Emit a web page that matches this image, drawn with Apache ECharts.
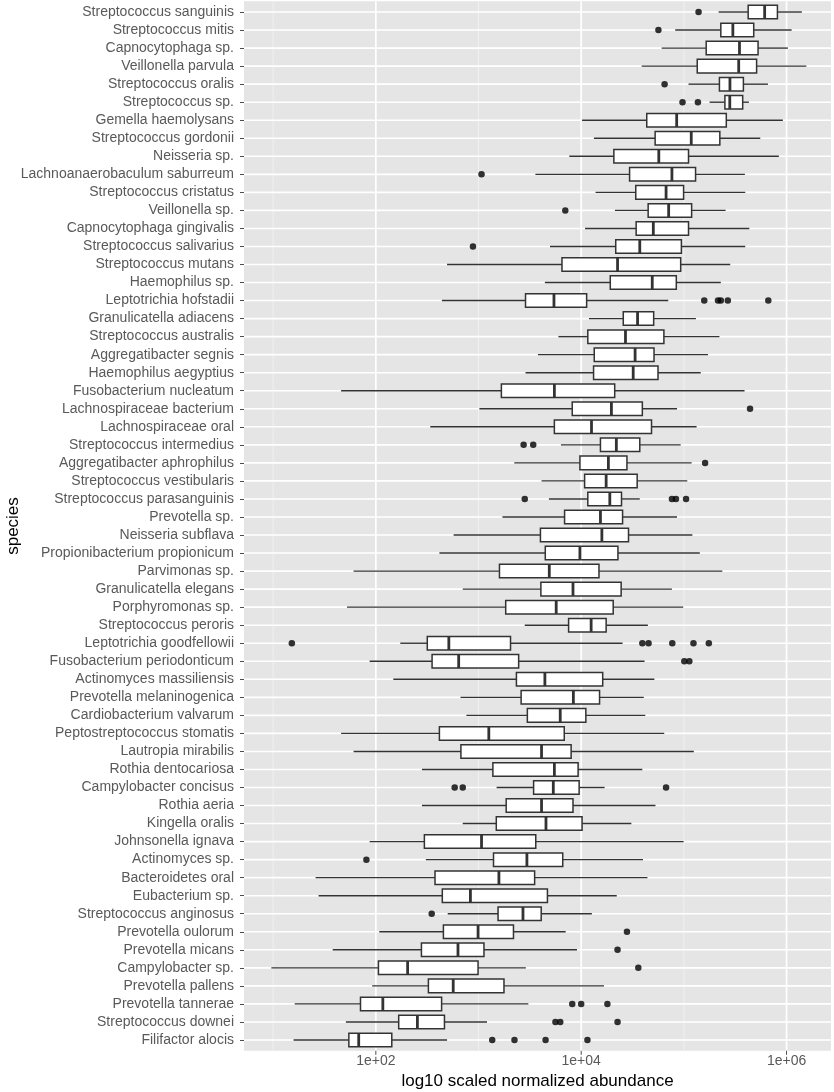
<!DOCTYPE html>
<html>
<head>
<meta charset="utf-8">
<script src="https://cdn.jsdelivr.net/npm/echarts@6/dist/echarts.min.js"></script>
<style>
html,body{margin:0;padding:0;background:#fff;}
#chart{width:834px;height:1092px;}
</style>
</head>
<body>
<div id="chart"></div>
<script>
const categories = [
 'Streptococcus sanguinis','Streptococcus mitis','Capnocytophaga sp.','Veillonella parvula','Streptococcus oralis',
 'Streptococcus sp.','Gemella haemolysans','Streptococcus gordonii','Neisseria sp.','Lachnoanaerobaculum saburreum',
 'Streptococcus cristatus','Veillonella sp.','Capnocytophaga gingivalis','Streptococcus salivarius','Streptococcus mutans',
 'Haemophilus sp.','Leptotrichia hofstadii','Granulicatella adiacens','Streptococcus australis','Aggregatibacter segnis',
 'Haemophilus aegyptius','Fusobacterium nucleatum','Lachnospiraceae bacterium','Lachnospiraceae oral','Streptococcus intermedius',
 'Aggregatibacter aphrophilus','Streptococcus vestibularis','Streptococcus parasanguinis','Prevotella sp.','Neisseria subflava',
 'Propionibacterium propionicum','Parvimonas sp.','Granulicatella elegans','Porphyromonas sp.','Streptococcus peroris',
 'Leptotrichia goodfellowii','Fusobacterium periodonticum','Actinomyces massiliensis','Prevotella melaninogenica','Cardiobacterium valvarum',
 'Peptostreptococcus stomatis','Lautropia mirabilis','Rothia dentocariosa','Campylobacter concisus','Rothia aeria',
 'Kingella oralis','Johnsonella ignava','Actinomyces sp.','Bacteroidetes oral','Eubacterium sp.',
 'Streptococcus anginosus','Prevotella oulorum','Prevotella micans','Campylobacter sp.','Prevotella pallens',
 'Prevotella tannerae','Streptococcus downei','Filifactor alocis'
];

const whiskerLow = [2.18e5,8.24e4,6.08e4,3.88e4,1.11e5,1.78e5,1.02e4,1.33e4,7.66e3,3.58e3,
 1.38e4,2.13e4,1.09e4,4.97e3,494,4.43e3,440,1.19e4,6.0e3,3.79e3,
 2.87e3,45.9,1.02e3,339,6.35e3,2.23e3,4.11e3,4.85e3,1.71e3,572,
 416,60.7,702,52.4,2.82e3,173,87,148,668,762,
 45.9,60.7,281,1.50e3,281,702,87,307,25.9,27.7,
 501,108,38,9.6,92.1,16.2,51.1,15.8];

const quartile1 = [4.23e5,2.29e5,1.65e5,1.35e5,2.22e5,2.51e5,4.35e4,5.25e4,2.08e4,2.96e4,
 3.40e4,4.49e4,3.43e4,2.17e4,6.5e3,1.92e4,2.87e3,2.57e4,1.16e4,1.34e4,
 1.32e4,1.67e3,8.18e3,5.48e3,1.54e4,9.72e3,1.08e4,1.16e4,6.89e3,4.01e3,
 4.47e3,1.60e3,4.05e3,1.84e3,7.54e3,317,353,2.34e3,2.60e3,2.99e3,
 416,674,1.38e3,3.44e3,1.86e3,1.49e3,297,1.40e3,377,444,
 1.55e3,455,278,106,325,70.9,167,54.6];

const medians = [6.12e5,3.0e5,3.48e5,3.42e5,2.81e5,2.8e5,8.51e4,1.18e5,5.7e4,7.65e4,
 6.71e4,7.11e4,5.04e4,3.72e4,2.26e4,4.92e4,5.43e3,3.54e4,2.70e4,3.35e4,
 3.21e4,5.48e3,1.97e4,1.26e4,2.20e4,1.84e4,1.75e4,1.90e4,1.54e4,1.59e4,
 9.72e3,4.89e3,8.32e3,5.71e3,1.25e4,514,641,4.43e3,8.39e3,6.25e3,
 1.26e3,4.11e3,5.48e3,5.35e3,4.11e3,4.54e3,1.07e3,2.96e3,1.58e3,834,
 2.71e3,990,631,204,567,117,254,68.1];

const quartile3 = [8.15e5,4.79e5,5.28e5,5.11e5,3.80e5,3.74e5,2.59e5,2.24e5,1.11e5,1.30e5,
 9.94e4,1.19e5,1.11e5,9.46e4,9.31e4,8.44e4,1.13e4,5.08e4,6.39e4,5.12e4,
 5.6e4,2.12e4,3.94e4,4.84e4,3.72e4,2.79e4,3.51e4,2.47e4,2.53e4,2.89e4,
 2.28e4,1.49e4,2.45e4,2.05e4,1.75e4,2.05e3,2.46e3,1.62e4,1.51e4,1.11e4,
 6.84e3,7.98e3,9.33e3,9.55e3,8.32e3,1.02e4,3.61e3,6.61e3,3.52e3,4.69e3,
 4.08e3,2.19e3,1.13e3,990,1.77e3,437,466,143];

const whiskerHigh = [1.41e6,1.12e6,1.03e6,1.56e6,6.59e5,4.3e5,9.21e5,5.55e5,8.42e5,3.93e5,
 3.96e5,2.55e5,4.34e5,3.96e5,2.83e5,2.29e5,7.05e4,1.31e5,2.22e5,1.72e5,
 1.46e5,3.90e5,8.58e4,1.33e5,9.31e4,1.19e5,1.08e5,3.72e4,8.58e4,1.21e5,
 1.43e5,2.37e5,7.65e4,9.86e4,4.46e4,2.53e4,4.14e4,5.16e4,4.07e4,4.21e4,
 6.44e4,1.25e5,3.94e4,1.69e4,5.29e4,3.08e4,9.94e4,4.0e4,4.42e4,2.22e4,
 1.27e4,7.06e3,9.10e3,2.89e3,1.67e4,3.06e3,1.21e3,494];

const outliers = [
 [1.39e5],[5.65e4],[],[],[6.49e4],[9.7e4,1.37e5],[],[],[],[1.07e3],
 [],[7.0e3],[],[883],[],[],[1.58e5,2.15e5,2.29e5,2.68e5,6.64e5],[],[],[],
 [],[],[4.41e5],[],[2.75e3,3.41e3],[1.61e5],[],[2.82e3,7.65e4,8.37e4,1.05e5],[],[],
 [],[],[],[],[],[15.2,3.94e4,4.53e4,7.71e4,1.24e5,1.75e5],[1.01e5,1.13e5],[],[],[],
 [],[],[],[586,702,6.71e4],[],[],[],[80.9],[],[],
 [350],[2.79e4],[2.26e4],[3.60e4],[],[8.18e3,1.0e4,1.80e4],[5.61e3,6.25e3,2.26e4],[1.36e3,2.24e3,4.50e3,1.15e4]
];

const majorBreaks = [1e2, 1e4, 1e6];
const majorLabels = ['1e+02', '1e+04', '1e+06'];
const minorBreaks = [1e1, 1e3, 1e5];
const xMin = 5.2, xMax = 2.71e6;

const boxData = categories.map((c, i) => [i, whiskerLow[i], quartile1[i], medians[i], quartile3[i], whiskerHigh[i]]);
const outlierData = [];
outliers.forEach((arr, i) => arr.forEach(v => outlierData.push([v, i])));

const chart = echarts.init(document.getElementById('chart'), null, {renderer: 'canvas'});

function bandHeight(api) {
  return Math.abs(api.coord([1e3, 1])[1] - api.coord([1e3, 0])[1]);
}

function renderPanel(params, api) {
  const cs = params.coordSys;
  const band = bandHeight(api);
  const top = cs.y - band * 0.1;
  const bottom = cs.y + cs.height + band * 0.1;
  const children = [];
  children.push({type: 'rect', shape: {x: cs.x, y: top, width: cs.width, height: bottom - top}, style: {fill: '#E5E5E5'}});
  minorBreaks.forEach(v => {
    const x = api.coord([v, 0])[0];
    children.push({type: 'line', shape: {x1: x, y1: top, x2: x, y2: bottom}, style: {stroke: '#F2F2F2', lineWidth: 0.9}});
  });
  majorBreaks.forEach(v => {
    const x = api.coord([v, 0])[0];
    children.push({type: 'line', shape: {x1: x, y1: top, x2: x, y2: bottom}, style: {stroke: '#FFFFFF', lineWidth: 1.7}});
    children.push({type: 'line', shape: {x1: x, y1: bottom, x2: x, y2: bottom + 4}, style: {stroke: '#4D4D4D', lineWidth: 1}});
  });
  categories.forEach((c, i) => {
    const y = api.coord([1e3, i])[1];
    children.push({type: 'line', shape: {x1: cs.x, y1: y, x2: cs.x + cs.width, y2: y}, style: {stroke: '#FFFFFF', lineWidth: 1.6}});
  });
  return {type: 'group', children: children};
}

function renderBox(params, api) {
  const yi = api.value(0);
  const lo = api.coord([api.value(1), yi]);
  const q1 = api.coord([api.value(2), yi]);
  const md = api.coord([api.value(3), yi]);
  const q3 = api.coord([api.value(4), yi]);
  const hi = api.coord([api.value(5), yi]);
  const h = bandHeight(api) * 0.75;
  const yc = q1[1];
  const stroke = '#333333';
  return {type: 'group', children: [
    {type: 'line', shape: {x1: lo[0], y1: yc, x2: q1[0], y2: yc}, style: {stroke: stroke, lineWidth: 1.4}},
    {type: 'line', shape: {x1: q3[0], y1: yc, x2: hi[0], y2: yc}, style: {stroke: stroke, lineWidth: 1.4}},
    {type: 'rect', shape: {x: q1[0], y: yc - h / 2, width: q3[0] - q1[0], height: h}, style: {fill: '#FFFFFF', stroke: stroke, lineWidth: 1.5}},
    {type: 'line', shape: {x1: md[0], y1: yc - h / 2, x2: md[0], y2: yc + h / 2}, style: {stroke: stroke, lineWidth: 2.8}}
  ]};
}

const option = {
  animation: false,
  textStyle: {fontFamily: 'Liberation Sans, Arial, sans-serif'},
  grid: {left: 244, right: 3, top: 3, bottom: 43, containLabel: false, outerBoundsMode: 'none'},
  xAxis: {
    type: 'log', logBase: 10, min: xMin, max: xMax,
    axisLine: {show: false},
    axisTick: {show: false},
    splitLine: {show: false},
    axisLabel: {
      color: '#595959', fontSize: 14, margin: 5,
      showMinLabel: false, showMaxLabel: false,
      formatter: function (v) {
        for (let k = 0; k < majorBreaks.length; k++) {
          if (Math.abs(Math.log10(v) - Math.log10(majorBreaks[k])) < 1e-6) return majorLabels[k];
        }
        return '';
      }
    },
    name: 'log10 scaled normalized abundance', nameLocation: 'middle', nameGap: 24, nameMoveOverlap: false,
    nameTextStyle: {fontSize: 17, color: '#000000'}
  },
  yAxis: {
    type: 'category', data: categories, inverse: true,
    axisLine: {show: false},
    axisTick: {show: true, alignWithLabel: true, length: 4, lineStyle: {color: '#4D4D4D', width: 1}},
    axisLabel: {color: '#595959', fontSize: 14, margin: 10, interval: 0},
    splitLine: {show: false},
    name: 'species', nameLocation: 'middle', nameGap: 222, nameRotate: 90, nameMoveOverlap: false,
    nameTextStyle: {fontSize: 17, color: '#000000'}
  },
  series: [
    {type: 'custom', name: 'panel', z: 1, clip: false, silent: true,
     data: [[0, 1000]], encode: {y: 0, x: 1}, renderItem: renderPanel},
    {type: 'custom', name: 'boxes', z: 3, clip: false, silent: true,
     data: boxData, encode: {y: 0, x: [1, 2, 3, 4, 5]}, renderItem: renderBox},
    {type: 'scatter', name: 'outliers', z: 4, silent: true,
     data: outlierData, symbol: 'circle', symbolSize: 6.5,
     itemStyle: {color: '#000000', borderWidth: 0}}
  ]
};
chart.setOption(option);
</script>
</body>
</html>
